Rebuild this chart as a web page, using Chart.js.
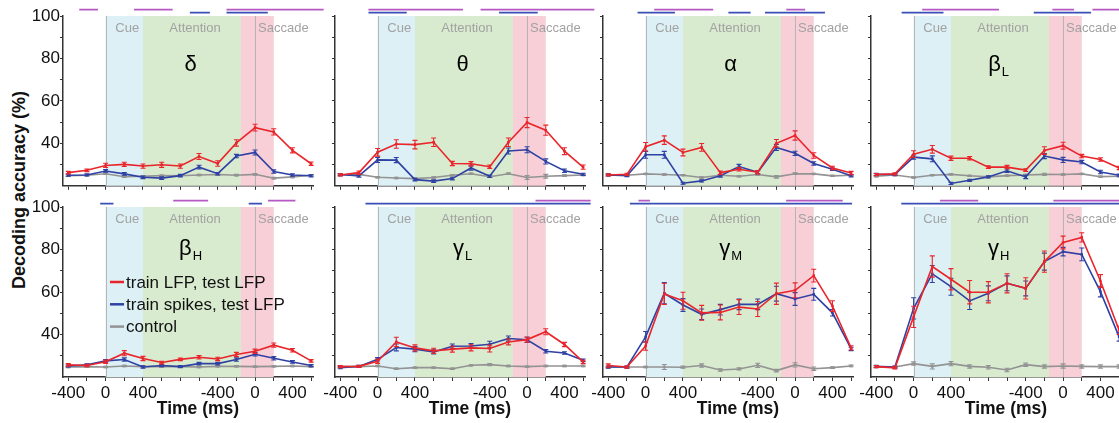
<!DOCTYPE html>
<html>
<head>
<meta charset="utf-8">
<script src="https://cdn.jsdelivr.net/npm/chart.js@4/dist/chart.umd.min.js"></script>
<style>
  html, body { margin: 0; padding: 0; background: #fff; overflow: hidden; }
  body { width: 1119px; height: 423px; position: relative; font-family: "Liberation Sans", Arial, Helvetica, sans-serif; }
  canvas { position: absolute; }
  .xtitle { position: absolute; top: 398px; width: 140px; margin-left: -70px; text-align: center; font-weight: bold; font-size: 17.5px; color: #111; }
  .ytitle { position: absolute; left: 19px; top: 190px; transform: translate(-50%, -50%) rotate(-90deg); white-space: nowrap; font-weight: bold; font-size: 18px; color: #111; }
</style>
</head>
<body>
<div class="ytitle">Decoding accuracy (%)</div>
<script>
// time bins: 7 aligned to cue onset, then 7 aligned to saccade onset
const cueTimes = [-400, -200, 0, 200, 400, 600, 800];
const sacTimes = [-600, -400, -200, 0, 200, 400, 600];
const binTimes = cueTimes.concat(sacTimes);

// task epochs (alignment, ms)
const epochNames = ['Cue', 'Attention', 'Saccade'];
const epochFrom = [['cue', 0], ['cue', 400], ['sac', -150]];
const epochTo = [['cue', 400], ['sac', -150], ['sac', 200]];

// frequency bands, one panel each
const bandNames = ['δ', 'θ', 'α', 'β', 'β', 'γ', 'γ', 'γ'];
const bandSubs = ['', '', '', 'L', 'H', 'L', 'M', 'H'];

const seriesLabels = ['train LFP, test LFP', 'train spikes, test LFP', 'control'];

// mean decoding accuracy (%) and s.e.m., rows follow bandNames
const lfpMean = [
  [26.2, 27.3, 29.6, 30.1, 29.3, 29.9, 29.3, 33.8, 30.5, 40.2, 47.4, 45.4, 36.7, 30.4],
  [25.1, 26.2, 35.8, 39.7, 39.4, 40.5, 30.5, 30.4, 29.0, 40.5, 49.8, 46.2, 36.3, 28.8],
  [25.1, 25.4, 38.4, 41.5, 35.7, 38.1, 26.2, 27.8, 26.4, 40.0, 43.7, 34.3, 28.4, 26.0],
  [25.3, 25.6, 34.9, 37.2, 33.0, 33.0, 28.8, 28.8, 27.4, 36.6, 38.9, 34.0, 32.4, 28.4],
  [25.7, 25.4, 27.2, 31.2, 28.7, 26.8, 28.3, 29.3, 28.5, 30.6, 32.1, 35.0, 32.6, 27.6],
  [24.9, 25.0, 27.4, 36.5, 33.7, 32.3, 33.1, 33.7, 33.4, 36.5, 37.6, 41.3, 35.3, 27.1],
  [25.4, 24.7, 34.6, 59.1, 55.9, 50.2, 50.4, 52.9, 52.0, 59.2, 60.8, 67.7, 53.4, 33.7],
  [24.9, 24.3, 48.3, 72.0, 66.0, 59.9, 59.9, 64.1, 61.7, 74.3, 83.3, 85.7, 65.2, 42.0]
];
const lfpSem = [
  [0.6, 0.6, 1.0, 1.0, 1.0, 1.2, 1.0, 1.4, 1.3, 1.5, 1.6, 1.5, 1.2, 0.8],
  [0.5, 0.8, 1.8, 2.0, 2.0, 2.0, 1.0, 1.0, 0.8, 2.0, 2.4, 2.4, 1.6, 1.0],
  [0.5, 0.5, 2.0, 2.0, 1.6, 1.8, 0.8, 0.8, 0.8, 1.8, 2.2, 1.3, 0.8, 0.8],
  [0.5, 0.5, 1.6, 1.8, 1.0, 0.8, 0.6, 0.8, 0.6, 1.8, 1.6, 0.8, 0.8, 0.8],
  [0.6, 0.6, 0.8, 1.2, 1.0, 0.6, 0.6, 0.8, 0.8, 1.0, 1.0, 1.0, 0.8, 0.6],
  [0.5, 0.5, 1.0, 2.2, 1.4, 1.2, 1.4, 1.4, 1.6, 1.4, 1.2, 1.4, 1.0, 0.8],
  [0.8, 0.5, 2.0, 5.0, 4.0, 3.5, 3.5, 3.5, 3.5, 5.0, 3.5, 3.0, 2.5, 1.0],
  [0.5, 0.5, 5.0, 5.0, 5.0, 5.5, 5.0, 4.5, 5.0, 5.0, 3.0, 2.2, 3.0, 2.0]
];
const spikeMean = [
  [25.0, 25.1, 27.0, 25.6, 24.0, 23.6, 24.8, 28.8, 25.7, 34.0, 35.7, 26.7, 25.1, 24.7],
  [25.3, 24.7, 32.2, 32.1, 22.9, 22.2, 23.4, 28.4, 24.5, 36.4, 37.0, 31.5, 27.1, 25.4],
  [25.1, 24.8, 34.6, 34.6, 21.2, 22.3, 24.7, 29.1, 26.4, 38.1, 35.3, 30.5, 27.8, 24.7],
  [25.4, 25.3, 33.5, 32.7, 21.1, 22.6, 24.2, 27.1, 24.2, 34.0, 32.2, 31.2, 26.5, 25.0],
  [25.2, 25.7, 27.6, 28.2, 24.7, 25.4, 24.9, 26.3, 26.3, 28.2, 30.7, 28.8, 27.1, 25.4],
  [24.4, 25.0, 28.3, 33.9, 33.1, 31.8, 34.5, 34.6, 35.4, 38.1, 37.5, 32.1, 31.3, 27.9],
  [24.7, 24.7, 38.9, 59.4, 53.9, 49.5, 51.7, 54.2, 54.2, 59.2, 56.7, 58.9, 50.2, 33.2],
  [25.0, 24.7, 52.3, 68.5, 62.5, 55.8, 59.4, 64.1, 61.7, 74.3, 79.0, 77.7, 60.2, 38.9]
];
const spikeSem = [
  [0.5, 0.5, 0.6, 0.6, 0.6, 0.6, 0.6, 0.9, 0.6, 0.8, 1.2, 0.8, 0.6, 0.5],
  [0.5, 0.6, 1.2, 1.2, 0.6, 0.6, 0.6, 1.0, 0.6, 1.4, 1.4, 1.2, 0.8, 0.5],
  [0.5, 0.5, 1.6, 1.6, 0.5, 0.5, 0.6, 1.0, 0.7, 1.4, 1.0, 0.8, 0.6, 0.5],
  [0.5, 0.5, 1.0, 1.4, 0.5, 0.5, 0.5, 0.8, 0.8, 1.2, 1.2, 0.8, 0.8, 0.5],
  [0.5, 0.5, 0.6, 0.8, 0.6, 0.5, 0.5, 0.6, 0.6, 0.8, 0.8, 0.8, 0.6, 0.5],
  [0.5, 0.5, 0.8, 1.6, 1.2, 1.0, 1.0, 1.2, 1.4, 1.2, 1.2, 0.8, 0.6, 0.6],
  [0.5, 0.5, 2.5, 5.0, 3.0, 2.5, 2.5, 2.5, 2.5, 3.5, 3.0, 2.8, 1.5, 0.8],
  [0.5, 0.5, 5.0, 4.0, 4.0, 4.0, 3.5, 3.5, 3.5, 4.0, 2.0, 3.0, 2.5, 2.0]
];
const ctrlMean = [
  [24.7, 25.0, 25.7, 24.3, 24.5, 24.8, 24.7, 25.1, 25.3, 25.0, 25.4, 23.6, 24.2, 25.0],
  [25.1, 25.4, 24.0, 23.7, 23.4, 23.9, 25.0, 25.7, 24.3, 25.7, 23.9, 24.5, 24.8, 25.1],
  [25.1, 25.0, 25.6, 25.3, 25.0, 23.9, 25.0, 24.5, 25.3, 24.2, 25.7, 25.6, 24.7, 25.0],
  [24.5, 25.1, 23.9, 25.0, 25.4, 24.7, 24.2, 24.8, 25.1, 25.4, 25.3, 25.6, 24.3, 24.5],
  [24.7, 24.9, 24.7, 25.2, 24.9, 24.9, 24.9, 24.7, 25.0, 25.0, 24.9, 25.0, 25.2, 24.9],
  [25.0, 24.9, 25.2, 23.9, 24.4, 24.4, 23.9, 25.5, 25.8, 25.2, 24.9, 25.2, 25.2, 25.2],
  [24.7, 24.7, 24.7, 24.7, 24.6, 25.4, 23.3, 23.8, 25.5, 23.0, 25.7, 23.9, 24.4, 25.2],
  [24.7, 24.7, 26.3, 25.0, 26.3, 25.0, 24.6, 23.3, 25.8, 24.9, 25.2, 25.0, 24.9, 24.9]
];
const ctrlSem = [
  [0.3, 0.3, 0.4, 0.4, 0.3, 0.3, 0.3, 0.3, 0.3, 0.4, 0.4, 0.4, 0.4, 0.3],
  [0.3, 0.3, 0.3, 0.3, 0.3, 0.3, 0.3, 0.3, 0.3, 0.4, 0.9, 0.9, 0.4, 0.3],
  [0.3, 0.3, 0.3, 0.3, 0.3, 0.3, 0.3, 0.3, 0.3, 0.6, 0.4, 0.3, 0.3, 0.3],
  [0.3, 0.3, 0.3, 0.3, 0.3, 0.3, 0.3, 0.3, 0.3, 0.5, 0.3, 0.3, 0.3, 0.3],
  [0.3, 0.3, 0.3, 0.3, 0.3, 0.3, 0.3, 0.3, 0.3, 0.3, 0.3, 0.3, 0.3, 0.3],
  [0.3, 0.3, 0.3, 0.3, 0.3, 0.3, 0.3, 0.3, 0.5, 0.3, 0.3, 0.3, 0.3, 0.3],
  [0.3, 0.3, 0.3, 1.2, 0.5, 0.8, 0.6, 0.5, 1.0, 0.6, 1.0, 0.8, 0.4, 0.4],
  [0.3, 0.3, 0.8, 1.2, 1.0, 0.8, 0.8, 0.8, 0.8, 0.8, 1.0, 0.8, 0.8, 0.8]
];

// significant stretches, [from bin, to bin]
const sigLfp = [
  [[0.59, 1.59], [3.52, 5.59], [8.47, 13.67]],
  [[1.51, 6.57], [7.51, 13.6]],
  [[2.46, 5.62], [9.53, 10.54]],
  [[2.46, 6.57], [9.43, 10.59], [11.57, 13.5]],
  [[5.62, 7.49], [10.69, 12.16]],
  [[10.45, 13.4]],
  [[1.62, 2.23], [9.52, 12.55]],
  [[3.41, 5.46], [9.48, 13.4]]
];
const sigSpike = [
  [[6.51, 7.58], [8.47, 10.68]],
  [[1.51, 3.56], [8.5, 10.57]],
  [[1.57, 3.57], [6.43, 7.62], [8.39, 11.6]],
  [[1.36, 3.6], [8.43, 11.5]],
  [[1.71, 2.42], [9.66, 10.37]],
  [[1.35, 13.4]],
  [[1.16, 13.05]],
  [[1.34, 13.4]]
];

const FONT = '"Liberation Sans", Arial, Helvetica, sans-serif';
const RED = '#e9252b', BLUE = '#2f41a3', GRAY = '#939393';
const PURPLE = '#b659c4', SIGBLUE = '#3a4fb6';
const epochFill = ['#dcf0f5', '#d8ebcf', '#f8ced7'];
const axisLeft = [63, 335, 603, 871];

const cueZero = cueTimes.indexOf(0);
const sacZero = cueTimes.length + sacTimes.indexOf(0);
const binOf = (align, t) => (align === 'cue' ? cueZero : sacZero) + t / 200;

function tickText(i) {
  const t = binTimes[i];
  return (t !== undefined && Math.abs(t) <= 400 && t % 400 === 0) ? String(t) : '';
}

function sigData(segs, level) {
  const pts = [];
  segs.forEach(([a, b]) => pts.push({ x: a, y: level }, { x: b, y: level }, { x: b, y: null }));
  return pts;
}

// shaded epochs, alignment lines, epoch names and band name
const epochPlugin = {
  id: 'epochs',
  beforeDatasetsDraw(chart) {
    const { ctx, chartArea: a, scales: { x, y } } = chart;
    const p = chart.options.plugins.epochs;
    ctx.save();
    epochNames.forEach((name, k) => {
      const x0 = x.getPixelForValue(binOf(...epochFrom[k]));
      const x1 = x.getPixelForValue(binOf(...epochTo[k]));
      ctx.fillStyle = epochFill[k];
      ctx.fillRect(x0, a.top, x1 - x0, a.bottom - a.top);
    });
    ctx.strokeStyle = '#b5b5b5';
    ctx.lineWidth = 1;
    [cueZero, sacZero].forEach(b => {
      const px = Math.round(x.getPixelForValue(b)) + 0.5;
      ctx.beginPath();
      ctx.moveTo(px, a.top);
      ctx.lineTo(px, a.bottom);
      ctx.stroke();
    });
    ctx.fillStyle = '#a2a2a2';
    ctx.font = '13px ' + FONT;
    ctx.textBaseline = 'alphabetic';
    epochNames.forEach((name, k) => {
      const x0 = x.getPixelForValue(binOf(...epochFrom[k]));
      const x1 = x.getPixelForValue(binOf(...epochTo[k]));
      if (name === 'Saccade') {
        ctx.textAlign = 'left';
        ctx.fillText(name, x.getPixelForValue(sacZero) + 3, a.top + 15.5);
      } else {
        ctx.textAlign = 'center';
        ctx.fillText(name, (x0 + x1) / 2 + 3, a.top + 15.5);
      }
    });
    // band name with subscript
    const main = bandNames[p.band], sub = bandSubs[p.band];
    ctx.fillStyle = '#000';
    ctx.font = '22px ' + FONT;
    const w1 = ctx.measureText(main).width;
    ctx.font = '13px ' + FONT;
    const w2 = sub ? ctx.measureText(sub).width + 1 : 0;
    const cx = x.getPixelForValue(6.55);
    const by = y.getPixelForValue(p.row === 0 ? 74.3 : 77.3);
    const sx = cx - (w1 + w2) / 2;
    ctx.textAlign = 'left';
    ctx.font = '22px ' + FONT;
    ctx.fillText(main, sx, by);
    if (sub) {
      ctx.font = '13px ' + FONT;
      ctx.fillText(sub, sx + w1 + 1, by + 5);
    }
    ctx.restore();
  }
};

// s.e.m. whiskers with caps, drawn right after each series
const errorBarPlugin = {
  id: 'errorBars',
  afterDatasetDraw(chart, args) {
    const ds = chart.data.datasets[args.index];
    if (!ds.errors) return;
    const { ctx, scales: { y } } = chart;
    ctx.save();
    ctx.strokeStyle = ds.borderColor;
    ctx.lineWidth = 1.1;
    args.meta.data.forEach((pt, i) => {
      const v = ds.data[i].y, e = ds.errors[i];
      const y0 = y.getPixelForValue(v - e), y1 = y.getPixelForValue(v + e);
      ctx.beginPath();
      ctx.moveTo(pt.x, y0); ctx.lineTo(pt.x, y1);
      ctx.moveTo(pt.x - 2.5, y0); ctx.lineTo(pt.x + 2.5, y0);
      ctx.moveTo(pt.x - 2.5, y1); ctx.lineTo(pt.x + 2.5, y1);
      ctx.stroke();
    });
    ctx.restore();
  }
};

// series key inside the beta-high panel
const keyPlugin = {
  id: 'seriesKey',
  afterDatasetsDraw(chart) {
    if (!chart.options.plugins.seriesKey.show) return;
    const { ctx, chartArea: a } = chart;
    ctx.save();
    ctx.font = '17px ' + FONT;
    ctx.textBaseline = 'middle';
    ctx.textAlign = 'left';
    chart.data.datasets.slice(0, 3).forEach((ds, k) => {
      const ry = a.top + 75 + k * 22.3;
      ctx.strokeStyle = ds.borderColor;
      ctx.lineWidth = 2.5;
      ctx.beginPath();
      ctx.moveTo(a.left + 47, ry);
      ctx.lineTo(a.left + 61, ry);
      ctx.stroke();
      ctx.fillStyle = '#111';
      ctx.fillText(ds.label, a.left + 63, ry + 1);
    });
    ctx.restore();
  }
};

function series(label, color, mean, sem) {
  return {
    label: label,
    data: mean.map((v, i) => ({ x: i, y: v })),
    errors: sem,
    borderColor: color,
    backgroundColor: color,
    borderWidth: 1.6,
    pointStyle: 'rect',
    pointRadius: 1.8,
    pointBorderWidth: 0,
    tension: 0
  };
}

function sigSeries(segs, color, level) {
  return {
    label: '',
    data: sigData(segs, level),
    borderColor: color,
    borderWidth: 1.8,
    pointRadius: 0,
    spanGaps: false,
    clip: false
  };
}

function makePanel(b) {
  const row = Math.floor(b / 4), col = b % 4;
  const W = 320, H = row === 0 ? 196 : 213;
  const cv = document.createElement('canvas');
  cv.width = W; cv.height = H;
  cv.style.left = (axisLeft[col] - 45) + 'px';
  cv.style.top = (row === 0 ? 0 : 192) + 'px';
  document.body.appendChild(cv);

  const tickFont = { family: FONT, size: 17 };
  new Chart(cv.getContext('2d'), {
    type: 'line',
    data: {
      datasets: [
        series(seriesLabels[0], RED, lfpMean[b], lfpSem[b]),
        series(seriesLabels[1], BLUE, spikeMean[b], spikeSem[b]),
        series(seriesLabels[2], GRAY, ctrlMean[b], ctrlSem[b]),
        sigSeries(sigLfp[b], PURPLE, 103),
        sigSeries(sigSpike[b], SIGBLUE, 101.6)
      ]
    },
    options: {
      responsive: false,
      animation: false,
      events: [],
      layout: { autoPadding: false, padding: { left: 0, right: 25, top: row === 0 ? 16 : 15, bottom: 0 } },
      scales: {
        x: {
          type: 'linear',
          min: -0.28,
          max: 13.1,
          afterBuildTicks: s => { s.ticks = binTimes.map((t, i) => ({ value: i })); },
          afterFit: s => { s.height = row === 0 ? 10 : 28; },
          grid: { drawOnChartArea: false, tickLength: 4, color: '#333', tickWidth: 1 },
          border: { color: '#333', width: 1.5 },
          ticks: {
            autoSkip: false, maxRotation: 0, padding: 2, font: tickFont, color: '#111',
            callback: v => row === 0 ? '' : tickText(v)
          }
        },
        y: {
          min: 20,
          max: 100,
          afterBuildTicks: s => { s.ticks = [30, 40, 50, 60, 70, 80, 90, 100].map(v => ({ value: v })); },
          afterFit: s => { s.width = 45; },
          grid: { drawOnChartArea: false, tickLength: 3, color: '#333', tickWidth: 1 },
          border: { color: '#333', width: 1.5 },
          ticks: {
            padding: 0, font: tickFont, color: '#111',
            callback: v => (col === 0 && v % 20 === 0 && v >= 40) ? String(v) : ''
          }
        }
      },
      plugins: {
        legend: { display: false },
        tooltip: { enabled: false },
        epochs: { band: b, row: row },
        seriesKey: { show: b === 4 }
      }
    },
    plugins: [epochPlugin, errorBarPlugin, keyPlugin]
  });

  if (row === 1) {
    const t = document.createElement('div');
    t.className = 'xtitle';
    t.style.left = (axisLeft[col] + 135) + 'px';
    t.textContent = 'Time (ms)';
    document.body.appendChild(t);
  }
}

bandNames.forEach((n, b) => makePanel(b));
</script>
</body>
</html>
